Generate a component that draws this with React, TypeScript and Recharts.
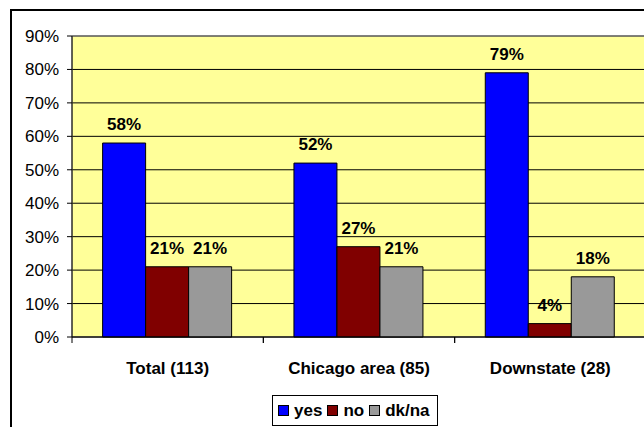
import React from "react";
import {
  Bar,
  BarChart,
  CartesianGrid,
  LabelList,
  Legend,
  ReferenceArea,
  XAxis,
  YAxis,
} from "recharts";

const categories = ["Total (113)", "Chicago area (85)", "Downstate (28)"];
const yes = [58, 52, 79];
const no = [21, 27, 4];
const dkna = [21, 21, 18];
const yTicks = [0, 10, 20, 30, 40, 50, 60, 70, 80, 90];

const series = [
  { key: "yes", name: "yes", color: "#0000FF" },
  { key: "no", name: "no", color: "#800000" },
  { key: "dkna", name: "dk/na", color: "#999999" },
];

const data = categories.map((name, i) => ({
  name,
  yes: yes[i],
  no: no[i],
  dkna: dkna[i],
}));

const FONT = "'Liberation Sans', Arial, sans-serif";
const FS = 17;
const CHART_W = 660;
const CHART_H = 427;
const MARGIN = { top: 36, right: 14, bottom: 50, left: 0 };
const Y_W = 72;
const BAND = (CHART_W - MARGIN.left - MARGIN.right - Y_W) / categories.length;

function CategoryTick(props: any) {
  const { x, y, payload } = props;
  const edge = x - BAND / 2;
  return (
    <g>
      <line x1={edge} y1={y} x2={edge} y2={y + 6} stroke="#000" />
      <line x1={x + BAND / 2} y1={y} x2={x + BAND / 2} y2={y + 6} stroke="#000" />
      <text
        x={x}
        y={y + 37}
        textAnchor="middle"
        fontFamily={FONT}
        fontWeight="bold"
        fontSize={FS}
        fill="#000"
      >
        {payload.value}
      </text>
    </g>
  );
}

function LegendBox() {
  return (
    <div
      style={{
        display: "flex",
        alignItems: "center",
        boxSizing: "border-box",
        height: 31,
        padding: "0 2px 0 5px",
        border: "1px solid #000",
        background: "#fff",
        fontFamily: FONT,
        fontWeight: "bold",
        fontSize: FS,
        color: "#000",
      }}
    >
      {series.map((s) => (
        <span key={s.key} style={{ display: "flex", alignItems: "center", marginRight: 5 }}>
          <span
            style={{
              display: "inline-block",
              width: 9,
              height: 9,
              background: s.color,
              border: "1px solid #000",
              marginRight: 5,
            }}
          />
          {s.name}
        </span>
      ))}
    </div>
  );
}

export default function App() {
  return (
    <div
      style={{
        position: "fixed",
        left: 0,
        top: 0,
        width: 644,
        height: 427,
        overflow: "hidden",
        background: "#fff",
      }}
    >
      <div
        style={{
          position: "absolute",
          left: 10,
          top: 9,
          width: 700,
          height: 500,
          border: "2px solid #000",
        }}
      />
      <BarChart
        width={CHART_W}
        height={CHART_H}
        data={data}
        margin={MARGIN}
        barCategoryGap="16%"
        barGap={0}
      >
        <CartesianGrid fill="#FFFF99" vertical={false} stroke="#000" strokeOpacity={1} />
        <ReferenceArea y1={0} y2={90} fill="none" stroke="#808080" strokeWidth={1} ifOverflow="visible" />
        <XAxis
          dataKey="name"
          axisLine={{ stroke: "#000" }}
          tickLine={false}
          tickSize={0}
          tickMargin={0}
          interval={0}
          height={40}
          tick={<CategoryTick />}
        />
        <YAxis
          width={Y_W}
          domain={[0, 90]}
          ticks={yTicks}
          interval={0}
          tickFormatter={(v: number) => `${v}%`}
          axisLine={{ stroke: "#000" }}
          tickLine={{ stroke: "#000" }}
          tickSize={5}
          tickMargin={8}
          tick={{ fill: "#000", fontFamily: FONT, fontSize: FS }}
        />
        <Legend
          layout="horizontal"
          verticalAlign="middle"
          align="center"
          content={() => <LegendBox />}
          wrapperStyle={{ left: 272, top: 395, width: "auto" }}
        />
        {series.map((s) => (
          <Bar
            key={s.key}
            dataKey={s.key}
            name={s.name}
            fill={s.color}
            stroke="#000"
            strokeWidth={1}
            isAnimationActive={false}
          >
            <LabelList
              dataKey={s.key}
              position="top"
              offset={13}
              formatter={(v: any) => `${v}%`}
              style={{ fontFamily: FONT, fontWeight: "bold", fontSize: FS, fill: "#000" }}
            />
          </Bar>
        ))}
      </BarChart>
    </div>
  );
}
